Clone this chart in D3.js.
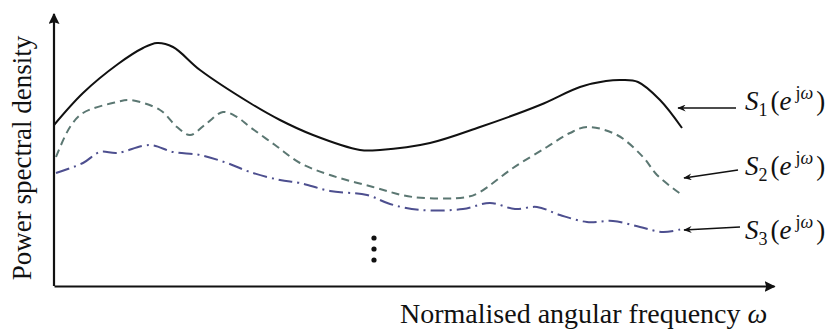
<!DOCTYPE html>
<html lang="en">
<head>
<meta charset="UTF-8">
<title>Power spectral densities</title>
<style>
    body { margin: 0; background: #fff; }
    svg { font-family: "Liberation Serif", "DejaVu Serif", serif; }
    .curve { fill: none; stroke-width: 2; }
</style>
</head>
<body>
<div id="chart"></div>
<script src="https://cdnjs.cloudflare.com/ajax/libs/d3/7.8.5/d3.min.js"></script>
<script>
    // normalised frequency (arbitrary units 0..180) and PSD values (arbitrary units)
    var s1 = [[0, 80.5], [7.25, 96.5], [16, 111], [22.25, 119], [25.75, 121.5], [29.75, 119.5],
        [36.5, 108], [49, 91.5], [56.5, 83], [64.75, 75.5], [76.5, 68], [81.5, 68], [94, 71.5],
        [106.5, 79.5], [121.5, 90.5], [131.5, 99.5], [138, 102.5], [142, 103], [146, 102],
        [151.5, 93], [157, 79]];

    var s2 = [[0.5, 64.5], [4, 79.5], [7.25, 86.5], [15.75, 92], [19, 93], [26.5, 88],
        [30.75, 79.5], [34, 75.5], [38.25, 81.5], [42.25, 87], [45.75, 84.5], [49, 79.5],
        [55.25, 70.5], [61.5, 61.5], [69, 55.5], [79.75, 49.5], [89.75, 44.5], [103.25, 44.5],
        [106.5, 47], [114.75, 59], [123.25, 69.5], [129, 76.5], [133.25, 79.5], [140.75, 75.5],
        [147.25, 64.5], [150.75, 55.5], [157, 45.5]];

    var s3 = [[0.5, 56.5], [7.25, 61.5], [11.5, 67], [15.75, 66.5], [24, 70.5], [29.75, 67],
        [36.5, 65.5], [43.25, 61.5], [49, 57], [56.5, 53], [61.5, 51.5], [69, 47.5],
        [78.25, 45.5], [84, 41], [91.5, 38], [102.25, 38.5], [109, 41.5], [115.25, 38.5],
        [120.75, 39.5], [126.5, 35.5], [133.25, 32], [139.75, 32.5], [146.5, 29.5],
        [152.25, 27], [157, 28.5]];

    // the vertical ellipsis below the curves
    var dots = [[80, 24], [80, 18.5], [80, 13]];

    // label arrows: [tail, head] and label anchor
    var labelArrows = [
        { sub: "1", from: [170.5, 89], to: [156, 89], text: [172.75, 88] },
        { sub: "2", from: [171, 58], to: [157.5, 54], text: [172.75, 55.5] },
        { sub: "3", from: [171.5, 29.5], to: [157.5, 28], text: [172.75, 23.5] }
    ];

    var xLabel = "Normalised angular frequency ";
    var yLabel = "Power spectral density";

    var width = 831, height = 329;

    var svg = d3.select("#chart").append("svg")
        .attr("width", width)
        .attr("height", height);

    var x = d3.scaleLinear().domain([0, 180]).range([54, 774]);
    var y = d3.scaleLinear().domain([0, 135]).range([286, 16]);

    var defs = svg.append("defs");
    defs.append("marker")
        .attr("id", "axis-head")
        .attr("viewBox", "0 0 10 10")
        .attr("refX", 9).attr("refY", 5)
        .attr("markerWidth", 5).attr("markerHeight", 5)
        .attr("markerUnits", "strokeWidth")
        .attr("orient", "auto")
        .append("path")
        .attr("d", "M0,0 L10,5 L0,10 L1.5,5 Z")
        .attr("fill", "#111");

    defs.append("marker")
        .attr("id", "label-head")
        .attr("viewBox", "0 0 12 10")
        .attr("refX", 11).attr("refY", 5)
        .attr("markerWidth", 9).attr("markerHeight", 7)
        .attr("markerUnits", "userSpaceOnUse")
        .attr("orient", "auto")
        .append("path")
        .attr("d", "M0,0 L12,5 L0,10 L4,5 Z")
        .attr("fill", "#111");

    // axes without ticks, arrowheads at the ends
    var xAxis = svg.append("g")
        .attr("transform", "translate(0," + y(0) + ")")
        .call(d3.axisBottom(x).tickValues([]).tickSizeOuter(0));
    xAxis.select(".domain")
        .attr("stroke", "#111")
        .attr("stroke-width", 2.2)
        .attr("marker-end", "url(#axis-head)");

    var yAxis = svg.append("g")
        .attr("transform", "translate(" + x(0) + ",0)")
        .call(d3.axisLeft(y).tickValues([]).tickSizeOuter(0));
    yAxis.select(".domain")
        .attr("stroke", "#111")
        .attr("stroke-width", 2.2)
        .attr("d", "M0," + y(0) + "V" + (y(135) - 2))
        .attr("marker-end", "url(#axis-head)");

    var line = d3.line()
        .x(function (d) { return x(d[0]); })
        .y(function (d) { return y(d[1]); })
        .curve(d3.curveCatmullRom.alpha(0.5));

    svg.append("path").datum(s1)
        .attr("class", "curve")
        .attr("stroke", "#111")
        .attr("d", line);

    svg.append("path").datum(s2)
        .attr("class", "curve")
        .attr("stroke", "#5b7772")
        .attr("stroke-width", 2.3)
        .attr("stroke-dasharray", "8,5")
        .attr("d", line);

    svg.append("path").datum(s3)
        .attr("class", "curve")
        .attr("stroke", "#4d4f8f")
        .attr("stroke-width", 2.4)
        .attr("stroke-dasharray", "14,5,2,5")
        .attr("d", line);

    svg.selectAll("circle.dot")
        .data(dots)
        .enter().append("circle")
        .attr("class", "dot")
        .attr("cx", function (d) { return x(d[0]); })
        .attr("cy", function (d) { return y(d[1]); })
        .attr("r", 2.6)
        .attr("fill", "#111");

    // curve labels with arrows
    svg.selectAll("line.pointer")
        .data(labelArrows)
        .enter().append("line")
        .attr("class", "pointer")
        .attr("x1", function (d) { return x(d.from[0]); })
        .attr("y1", function (d) { return y(d.from[1]); })
        .attr("x2", function (d) { return x(d.to[0]); })
        .attr("y2", function (d) { return y(d.to[1]); })
        .attr("stroke", "#111")
        .attr("stroke-width", 1.6)
        .attr("marker-end", "url(#label-head)");

    var labels = svg.selectAll("text.s-label")
        .data(labelArrows)
        .enter().append("text")
        .attr("class", "s-label")
        .attr("x", function (d) { return x(d.text[0]); })
        .attr("y", function (d) { return y(d.text[1]); })
        .attr("font-size", 27)
        .attr("fill", "#111");

    labels.append("tspan").attr("font-style", "italic").text("S");
    labels.append("tspan").attr("font-size", 18).attr("dy", 6).text(function (d) { return d.sub; });
    labels.append("tspan").attr("dy", -6).attr("dx", 3).text("(");
    labels.append("tspan").attr("font-style", "italic").text("e");
    labels.append("tspan").attr("font-size", 18).attr("dy", -11).attr("dx", 4).text("j");
    labels.append("tspan").attr("font-size", 18).attr("font-style", "italic").text("ω");
    labels.append("tspan").attr("dy", 11).attr("dx", 3).text(")");

    // axis titles
    var xt = svg.append("text")
        .attr("x", 400)
        .attr("y", 323)
        .attr("font-size", 28)
        .attr("fill", "#111");
    xt.append("tspan").text(xLabel);
    xt.append("tspan").attr("font-style", "italic").text("ω");

    svg.append("text")
        .attr("transform", "translate(31," + 158 + ") rotate(-90)")
        .attr("text-anchor", "middle")
        .attr("font-size", 27)
        .attr("fill", "#111")
        .text(yLabel);
</script>
</body>
</html>
